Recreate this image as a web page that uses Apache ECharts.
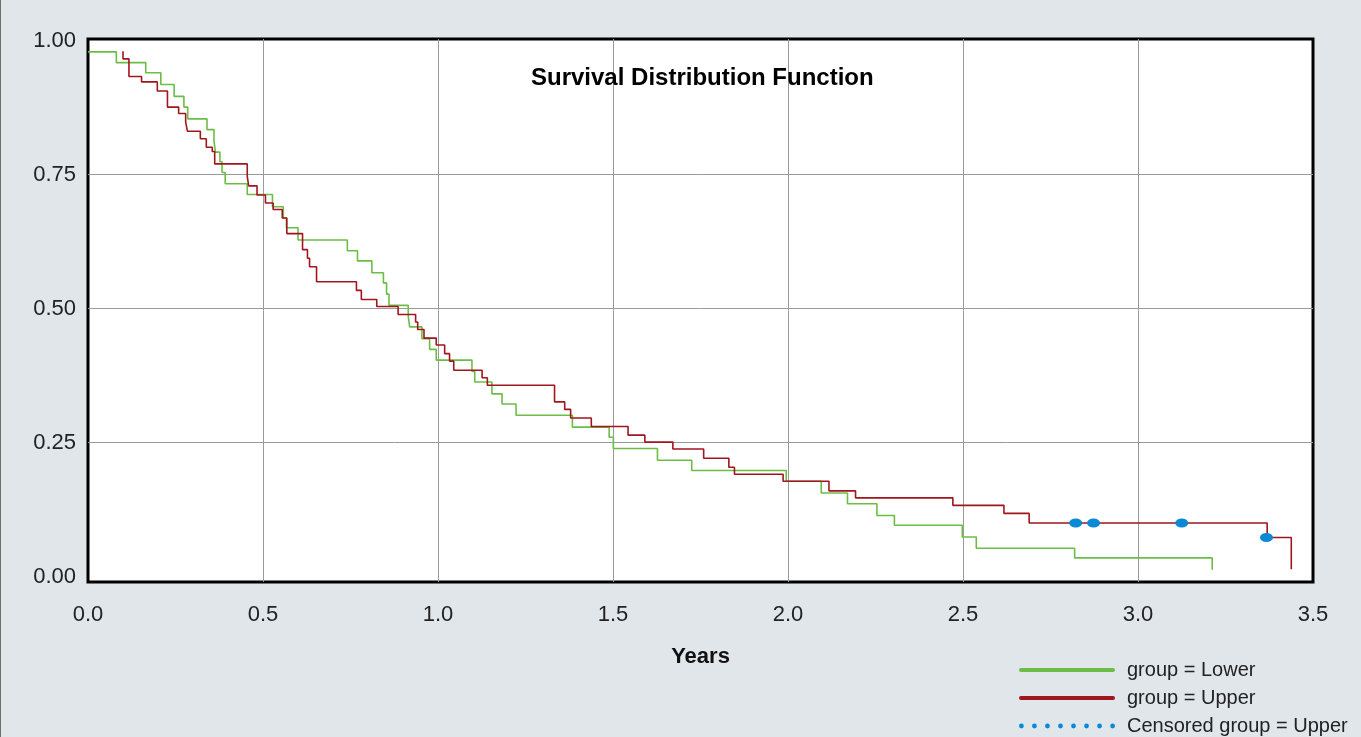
<!DOCTYPE html>
<html>
<head>
<meta charset="utf-8">
<script src="https://cdn.jsdelivr.net/npm/echarts@6/dist/echarts.min.js"></script>
<style>
html, body { margin: 0; padding: 0; background: #e1e6ea; }
#chart { width: 1361px; height: 737px; }
#edge { position: absolute; left: 0; top: 0; width: 1px; height: 737px; background: #6f6f6f; }
</style>
</head>
<body>
<div id="chart"></div>
<div id="edge"></div>
<script>
// tick labels
var xTicks = [0, 0.5, 1, 1.5, 2, 2.5, 3, 3.5];
var yTicks = [0, 0.25, 0.5, 0.75, 1];

// group = Lower (time of drop, survival after drop)
var lowerTimes = [0, 0.081, 0.165, 0.208, 0.246, 0.274, 0.285, 0.340, 0.360, 0.364, 0.377, 0.383, 0.392,
  0.455, 0.527, 0.558, 0.567, 0.600, 0.741, 0.770, 0.811, 0.844, 0.853, 0.860, 0.915, 0.919, 0.954,
  0.976, 0.995, 1.097, 1.105, 1.154, 1.183, 1.223, 1.384, 1.489, 1.501, 1.627, 1.725, 1.995, 2.095,
  2.170, 2.254, 2.304, 2.498, 2.538, 2.819, 3.212];
var lowerSurv = [0.979, 0.959, 0.940, 0.918, 0.896, 0.876, 0.854, 0.834, 0.813, 0.792, 0.774, 0.754, 0.733,
  0.713, 0.690, 0.669, 0.651, 0.628, 0.608, 0.589, 0.567, 0.548, 0.527, 0.506, 0.486, 0.466, 0.444,
  0.424, 0.404, 0.383, 0.363, 0.341, 0.322, 0.301, 0.279, 0.260, 0.239, 0.217, 0.198, 0.178, 0.156,
  0.136, 0.114, 0.096, 0.074, 0.053, 0.035, 0.013];

// group = Upper
var upperTimes = [0.100, 0.100, 0.117, 0.153, 0.198, 0.227, 0.259, 0.279, 0.284, 0.321, 0.338, 0.355, 0.362,
  0.455, 0.459, 0.483, 0.507, 0.529, 0.555, 0.568, 0.613, 0.627, 0.633, 0.653, 0.767, 0.781, 0.825,
  0.886, 0.936, 0.942, 0.960, 0.995, 1.019, 1.033, 1.045, 1.126, 1.141, 1.333, 1.362, 1.379, 1.438,
  1.543, 1.591, 1.671, 1.759, 1.831, 1.847, 1.986, 2.117, 2.193, 2.471, 2.617, 2.689, 3.369, 3.438];
var upperSurv = [0.980, 0.966, 0.933, 0.923, 0.906, 0.876, 0.864, 0.848, 0.831, 0.817, 0.801, 0.793, 0.770,
  0.747, 0.729, 0.712, 0.697, 0.685, 0.669, 0.640, 0.610, 0.594, 0.578, 0.550, 0.534, 0.517, 0.504,
  0.489, 0.475, 0.461, 0.445, 0.432, 0.416, 0.402, 0.385, 0.371, 0.357, 0.326, 0.312, 0.296, 0.280,
  0.264, 0.251, 0.238, 0.221, 0.204, 0.191, 0.178, 0.160, 0.147, 0.133, 0.118, 0.100, 0.073, 0.014];

// Censored group = Upper
var censTimes = [2.822, 2.873, 3.125, 3.367];
var censSurv = [0.100, 0.100, 0.100, 0.073];

var green = '#6cbd45';
var red = '#a0161e';
var blue = '#0a8ad6';
var font = 'Liberation Sans';

function pairs(xs, ys) {
  return xs.map(function (x, i) { return [x, ys[i]]; });
}

// legend icons: a rounded bar and a row of dots
var barIcon = 'path://M2,0H94A2,2 0 0 1 94,4H2A2,2 0 0 1 2,0Z';
var dotIcon = 'path://';
for (var k = 0; k < 8; k++) {
  var cx = 2.4 + k * 91.2 / 7;
  dotIcon += 'M' + (cx - 2.4).toFixed(2) + ',2.4a2.4,2.4 0 1,0 4.8,0a2.4,2.4 0 1,0 -4.8,0Z';
}

var chart = echarts.init(document.getElementById('chart'));

var option = {
  animation: false,
  backgroundColor: '#e1e6ea',
  title: {
    text: 'Survival Distribution Function',
    left: 531,
    top: 66,
    padding: 0,
    textStyle: { fontFamily: font, fontSize: 24, fontWeight: 'bold', color: '#000' }
  },
  legend: {
    orient: 'vertical',
    left: 1019,
    top: 660,
    height: 100,
    padding: 0,
    itemWidth: 96,
    itemHeight: 14,
    itemGap: 8,
    selectedMode: false,
    textStyle: { fontFamily: font, fontSize: 20, lineHeight: 20, color: '#222', padding: [0, 0, 0, 7] },
    data: [
      { name: 'group = Lower', icon: barIcon, itemStyle: { color: green } },
      { name: 'group = Upper', icon: barIcon, itemStyle: { color: red } },
      { name: 'Censored group = Upper', icon: dotIcon, itemStyle: { color: blue } }
    ]
  },
  grid: {
    left: 88,
    right: 48,
    top: 39,
    bottom: 155,
    show: true,
    backgroundColor: '#fff',
    borderColor: '#000',
    borderWidth: 3
  },
  xAxis: {
    type: 'value',
    min: 0,
    max: 3.5,
    name: 'Years',
    nameLocation: 'middle',
    nameGap: 64,
    nameTextStyle: { fontFamily: font, fontSize: 22, fontWeight: 'bold', color: '#111' },
    axisLine: { show: false },
    axisTick: { show: false, customValues: xTicks.slice(1, -1) },
    axisLabel: {
      customValues: xTicks,
      margin: 22,
      fontFamily: font,
      fontSize: 22,
      color: '#222',
      formatter: function (v) { return v.toFixed(1); }
    },
    splitLine: { show: true, lineStyle: { color: '#9a9a9a', width: 1 } }
  },
  yAxis: {
    type: 'value',
    min: -0.01,
    max: 1.003,
    axisLine: { show: false },
    axisTick: { show: false, customValues: yTicks.slice(1, -1) },
    axisLabel: {
      customValues: yTicks,
      margin: 12,
      fontFamily: font,
      fontSize: 22,
      color: '#222',
      formatter: function (v) { return v.toFixed(2); }
    },
    splitLine: { show: true, lineStyle: { color: '#9a9a9a', width: 1 } }
  },
  series: [
    {
      name: 'group = Lower',
      type: 'line',
      step: 'end',
      symbol: 'none',
      z: 2,
      itemStyle: { color: green },
      lineStyle: { color: green, width: 1.6 },
      data: pairs(lowerTimes, lowerSurv)
    },
    {
      name: 'group = Upper',
      type: 'line',
      step: 'end',
      symbol: 'none',
      z: 3,
      itemStyle: { color: red },
      lineStyle: { color: red, width: 1.6 },
      data: pairs(upperTimes, upperSurv)
    },
    {
      name: 'Censored group = Upper',
      type: 'scatter',
      symbol: 'circle',
      symbolSize: [13, 9],
      z: 4,
      itemStyle: { color: blue, opacity: 1 },
      data: pairs(censTimes, censSurv)
    }
  ]
};

chart.setOption(option);
</script>
</body>
</html>
